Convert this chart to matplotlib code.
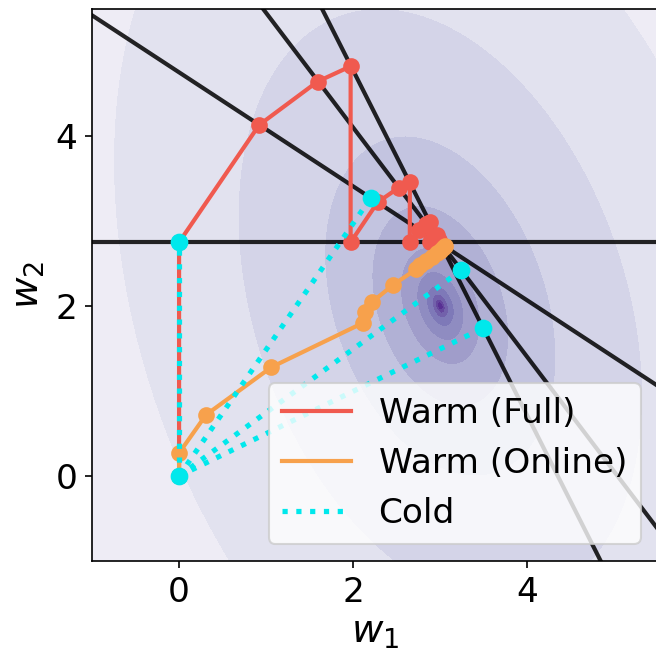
import numpy as np
import matplotlib
matplotlib.use("Agg")
import matplotlib.pyplot as plt
from matplotlib.lines import Line2D

plt.rcParams['font.size'] = 16.5

# loss surface (quadratic bowl centred at w*)
w_star = [3.0, 2.0]
A11, A12, A22 = 1.0, 0.2, 0.44
levels = [0.001, 0.0028, 0.008, 0.023, 0.066, 0.19, 0.56, 1.6, 4.9, 12.8]

# constraint lines  w2 = slope * w1 + intercept
line_slopes = [0.0, -0.671, -1.35, -2.03]
line_intercepts = [2.75, 4.749, 6.798, 8.829]

# warm start, full pass (cyclic projections)
full_w1 = [0, 0, 0.92, 1.59, 1.97, 1.97, 2.28, 2.52, 2.65, 2.65, 2.75, 2.84, 2.88,
           2.88, 2.91, 2.94, 2.96, 2.96, 2.96, 2.98, 2.98, 2.98]
full_w2 = [0, 2.75, 4.13, 4.64, 4.82, 2.75, 3.22, 3.39, 3.46, 2.75, 2.90, 2.97, 2.99,
           2.75, 2.80, 2.82, 2.83, 2.75, 2.76, 2.77, 2.78, 2.75]

# warm start, online
online_w1 = [0, 0, 0.31, 1.06, 2.11, 2.13, 2.22, 2.46, 2.72, 2.77, 2.83, 2.90, 2.96, 3.00, 3.03, 3.05]
online_w2 = [0, 0.27, 0.72, 1.28, 1.80, 1.93, 2.05, 2.25, 2.43, 2.48, 2.53, 2.58, 2.62, 2.65, 2.68, 2.70]

# cold start: min-norm solution of each constraint
cold_w1 = [0, 2.20, 3.24, 3.49]
cold_w2 = [2.75, 3.27, 2.42, 1.74]

red = '#f05a4f'
orange = '#f7a14c'
cyan = '#00e8ec'

fig = plt.figure(figsize=(656 / 150, 654 / 150), dpi=150)
ax = fig.add_axes([92 / 656, 93 / 654, 566 / 656, 552.5 / 654])

g1, g2 = np.meshgrid(np.linspace(-1.2, 5.7, 600), np.linspace(-1.2, 5.7, 600))
d1 = g1 - w_star[0]
d2 = g2 - w_star[1]
Z = A11 * d1 ** 2 + 2 * A12 * d1 * d2 + A22 * d2 ** 2
lv = [0] + levels + [Z.max() + 1]
cols = plt.cm.Purples(np.linspace(0.85, 0.13, len(lv) - 1))
ax.contourf(g1, g2, Z, levels=lv, colors=cols, zorder=0)

for m, b in zip(line_slopes, line_intercepts):
    ax.axline((0, b), slope=m, color='k', lw=2, alpha=0.85, zorder=1)

ax.plot(full_w1, full_w2, '-o', color=red, lw=2, ms=7, zorder=2)
ax.plot(online_w1, online_w2, '-o', color=orange, lw=2, ms=7, zorder=3)
for x, y in zip(cold_w1, cold_w2):
    ax.plot([0, x], [0, y], ':o', color=cyan, lw=2.5, ms=7.5, markevery=[1], zorder=4)
ax.plot([0], [0], 'o', color=cyan, ms=7.5, zorder=4)

ax.set_xlim(-1, 5.5)
ax.set_ylim(-1, 5.5)
ax.set_xticks([0, 2, 4])
ax.set_yticks([0, 2, 4])
ax.set_xlabel('$w_1$', fontsize=18.5, labelpad=2)
ax.set_ylabel('$w_2$', fontsize=18.5, labelpad=4)

handles = [Line2D([], [], color=red, lw=2),
           Line2D([], [], color=orange, lw=2),
           Line2D([], [], color=cyan, lw=2.5, ls=':')]
ax.legend(handles, ['Warm (Full)', 'Warm (Online)', 'Cold'], loc='lower right')

fig.savefig('out.png', dpi=150)
